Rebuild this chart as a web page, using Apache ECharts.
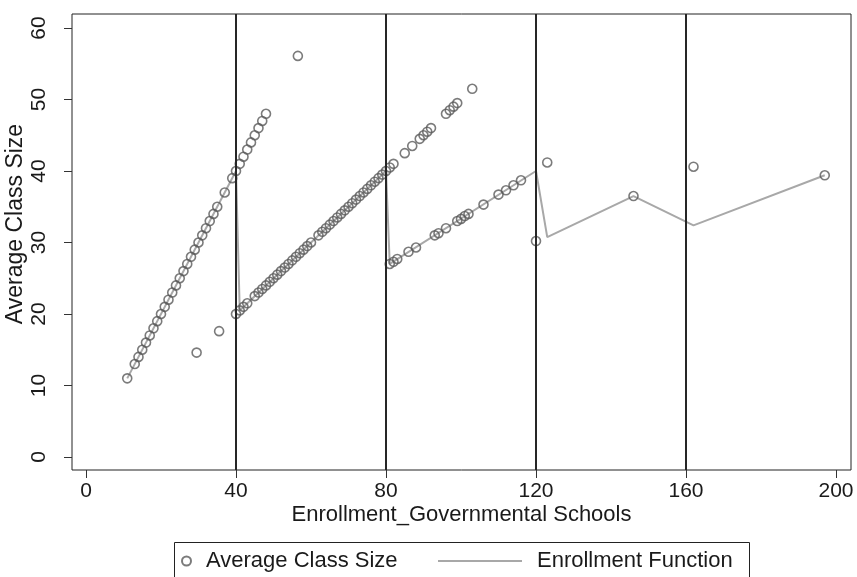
<!DOCTYPE html>
<html>
<head>
<meta charset="utf-8">
<script src="https://cdn.jsdelivr.net/npm/echarts@6/dist/echarts.min.js"></script>
<style>
html,body{margin:0;padding:0;background:#fff;}
#chart{width:857px;height:577px;}
</style>
</head>
<body>
<div id="chart"></div>
<script>
// Tick labels
const xTicks = [0, 40, 80, 120, 160, 200];
const yTicks = [0, 10, 20, 30, 40, 50, 60];
// Class-size cutoffs (vertical reference lines)
const cutoffs = [40, 80, 120, 160];

// Average Class Size (scatter)
const classX = [
  11,13,14,15,16,17,18,19,20,21,22,23,24,25,26,27,28,29,30,31,32,33,34,35,37,39,40,
  41,42,43,44,45,46,47,48,
  40,41,42,43,45,46,47,48,49,50,51,52,53,54,55,56,57,58,59,60,62,63,64,65,66,67,68,69,70,71,72,73,74,75,76,77,78,79,80,
  81,82,85,87,89,90,91,92,96,97,98,99,103,
  81,82,83,86,88,93,94,96,99,100,101,102,106,110,112,114,116,
  29.5,35.5,56.5,120,123,146,162,197
];
const classY = [
  11,13,14,15,16,17,18,19,20,21,22,23,24,25,26,27,28,29,30,31,32,33,34,35,37,39,40,
  41,42,43,44,45,46,47,48,
  20,20.5,21,21.5,22.5,23,23.5,24,24.5,25,25.5,26,26.5,27,27.5,28,28.5,29,29.5,30,31,31.5,32,32.5,33,33.5,34,34.5,35,35.5,36,36.5,37,37.5,38,38.5,39,39.5,40,
  40.5,41,42.5,43.5,44.5,45,45.5,46,48,48.5,49,49.5,51.5,
  27,27.3,27.7,28.7,29.3,31,31.3,32,33,33.3,33.7,34,35.3,36.7,37.3,38,38.7,
  14.6,17.6,56.1,30.2,41.2,36.5,40.6,39.4
];

// Enrollment Function (line)
const funcX = [11, 40, 41, 80, 81, 120, 123, 146, 162, 197];
const funcY = [11, 40, 20.5, 40, 27, 40, 30.75, 36.5, 32.4, 39.4];

const FONT = "'Liberation Sans', Arial, sans-serif";
const TXT = '#1a1a1a';

const scatterData = classX.map((x, i) => [x, classY[i]]);
const lineData = funcX.map((x, i) => [x, funcY[i]]);

const chart = echarts.init(document.getElementById('chart'), null, {renderer: 'canvas'});
chart.setOption({
  backgroundColor: '#ffffff',
  animation: false,
  textStyle: {fontFamily: FONT, color: TXT},
  grid: {
    left: 72, right: 6, top: 14, bottom: 107,
    outerBoundsMode: 'none', containLabel: false,
    show: true, borderColor: '#222', borderWidth: 1, backgroundColor: '#fff'
  },
  xAxis: {
    type: 'value', min: -3.73, max: 204,
    name: 'Enrollment_Governmental Schools', nameLocation: 'middle', nameGap: 34,
    nameMoveOverlap: false,
    nameTextStyle: {fontSize: 22, color: TXT, fontFamily: FONT},
    axisLine: {show: false, onZero: false},
    splitLine: {show: false},
    axisTick: {show: true, inside: false, length: 8, customValues: xTicks, lineStyle: {color: '#333', width: 1}},
    axisLabel: {customValues: xTicks, fontSize: 21, color: TXT, margin: 11, fontFamily: FONT}
  },
  yAxis: {
    type: 'value', min: -1.82, max: 61.96,
    name: 'Average Class Size', nameLocation: 'middle', nameGap: 45, nameRotate: 90,
    nameMoveOverlap: false,
    nameTextStyle: {fontSize: 23, color: TXT, fontFamily: FONT, padding: [0, 0, 0, 36]},
    axisLine: {show: false, onZero: false},
    splitLine: {show: false},
    axisTick: {show: true, inside: false, length: 8, customValues: yTicks, lineStyle: {color: '#333', width: 1}},
    axisLabel: {customValues: yTicks, rotate: 90, fontSize: 21, color: TXT, margin: 22, fontFamily: FONT}
  },
  legend: [
    {
      data: [{name: 'Average Class Size', icon: 'circle'}],
      left: 176, top: 545, itemWidth: 9, itemHeight: 9,
      textStyle: {fontSize: 22, color: TXT, fontFamily: FONT, padding: [0, 0, 0, 10]},
      selectedMode: false
    },
    {
      data: [{name: 'Enrollment Function', icon: 'rect'}],
      left: 433, top: 545, itemWidth: 84, itemHeight: 2,
      textStyle: {fontSize: 22, color: TXT, fontFamily: FONT, padding: [0, 0, 0, 10]},
      selectedMode: false
    }
  ],
  graphic: [{
    type: 'rect', left: 172, top: 540, silent: true,
    shape: {width: 575, height: 50},
    style: {fill: 'none', stroke: '#222', lineWidth: 1}
  }],
  series: [
    {
      name: 'Enrollment Function', type: 'line', data: lineData,
      symbol: 'none', showSymbol: false,
      lineStyle: {color: '#a8a8a8', width: 2},
      itemStyle: {color: '#a8a8a8'},
      z: 2,
      markLine: {
        silent: true, symbol: 'none', animation: false,
        label: {show: false},
        lineStyle: {color: '#262626', width: 2, type: 'solid'},
        data: cutoffs.map(v => ({xAxis: v}))
      }
    },
    {
      name: 'Average Class Size', type: 'scatter', data: scatterData,
      symbol: 'circle', symbolSize: 9,
      itemStyle: {color: 'rgba(255,255,255,0)', borderColor: '#5a5a5a', borderWidth: 1.6},
      z: 3
    }
  ]
});
</script>
</body>
</html>
